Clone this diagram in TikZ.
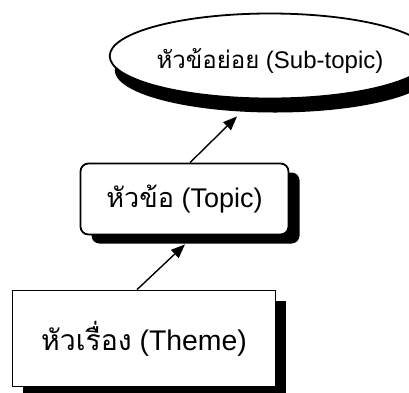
\documentclass[tikz,border=0pt]{standalone}
\usepackage{fontspec}
\setmainfont{Liberation Sans}
\newfontfamily\thai[Script=Thai]{Loma}
\usetikzlibrary{shapes.geometric,shadows,calc,arrows.meta}
\begin{document}
\begin{tikzpicture}[x=1pt,y=-1pt,
  box/.style={draw, line width=1.8pt, fill=white, inner sep=0pt, align=center},
  arr/.style={line width=1.4pt, -{Triangle[length=14pt,width=11pt]}},
]
\useasboundingbox (0,0) rectangle (409,392);
\node[box, ellipse, minimum width=267pt, minimum height=85pt,
  font=\fontsize{24}{28}\selectfont,
  drop shadow={shadow xshift=5pt, shadow yshift=-14pt, fill=black, opacity=1}]
  (sub) at (270,56) {\raisebox{-12pt}[0pt][0pt]{{\thai หัวข้อย่อย} (Sub-topic)}};
\node[box, rectangle, rounded corners=8pt, minimum width=208pt, minimum height=71pt,
  font=\fontsize{27}{32}\selectfont,
  drop shadow={shadow xshift=11pt, shadow yshift=-9pt, fill=black, opacity=1}]
  (topic) at (184.5,199) {{\thai หัวข้อ} (Topic)};
\node[box, rectangle, minimum width=263pt, minimum height=96pt,
  font=\fontsize{28.4}{33}\selectfont,
  drop shadow={shadow xshift=10.5pt, shadow yshift=-10.5pt, fill=black, opacity=1}]
  (theme) at (144,338.5) {{\thai หัวเรื่อง} (Theme)};
\draw[arr] ($(theme.north)+(-7,0)$) -- ($(topic.south)+(0.5,9)$);
\draw[arr] ($(topic.north)+(5.5,0)$) -- ($(sub.south)+(-33,17)$);
\end{tikzpicture}
\end{document}
